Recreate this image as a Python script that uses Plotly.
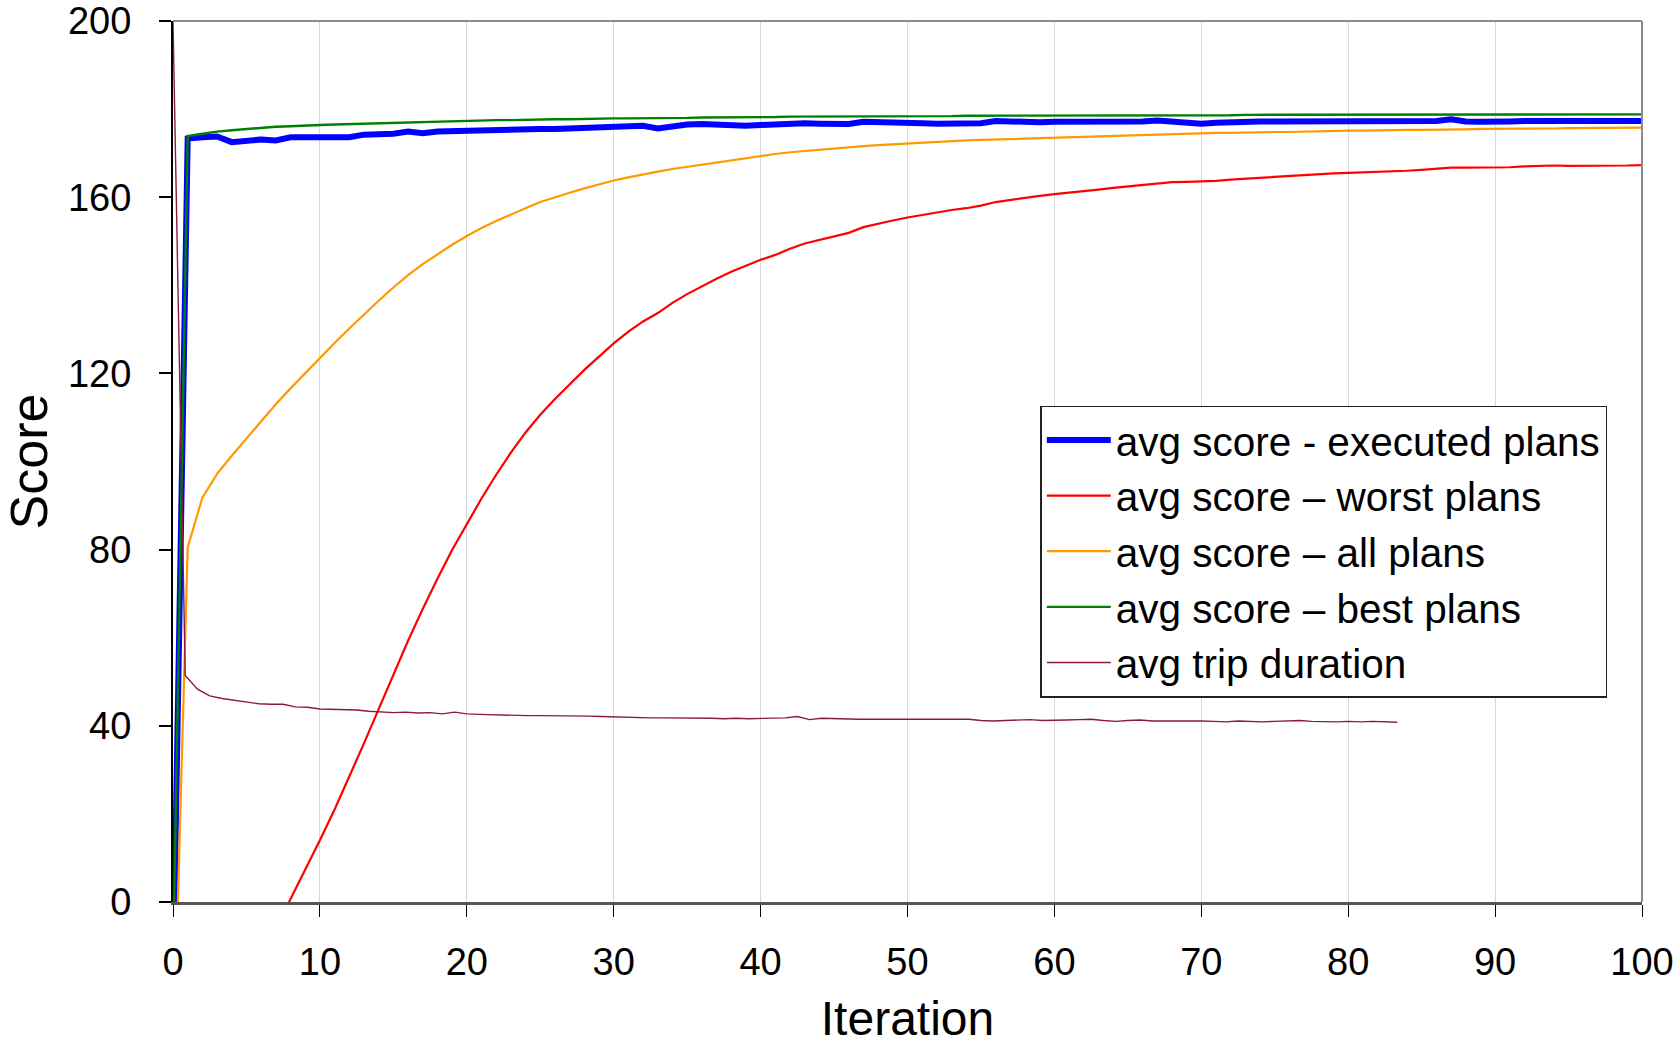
import plotly.graph_objects as go

# ---------------- data ----------------
iterations = list(range(101))

executed = [-20, 173.3, 173.6, 173.8, 172.5, 172.8, 173.1, 172.9, 173.6, 173.6,
            173.6, 173.9, 173.6, 174.2, 174.2, 174.4, 174.9, 174.5, 174.9, 175.0,
            175.3, 175.2, 175.3, 175.3, 175.4, 175.5, 175.5, 175.6, 175.8, 175.9,
            176.0, 176.1, 176.2, 175.6, 176.1, 176.5, 176.6, 176.4, 176.1, 176.2,
            176.4, 176.6, 176.8, 176.8, 176.7, 176.6, 176.6, 177.1, 177.1, 177.0,
            176.9, 176.8, 176.7, 176.7, 176.5, 176.8, 177.3, 177.1, 177.1, 177.0,
            177.1, 177.1, 177.0, 177.1, 177.3, 177.2, 177.2, 177.4, 177.2, 177.0,
            176.7, 176.9, 177.1, 177.1, 177.2, 177.2, 177.2, 177.1, 177.2, 177.2,
            177.2, 177.2, 177.2, 177.1, 177.2, 177.3, 177.3, 177.7, 177.2, 177.1,
            177.0, 177.2, 177.3, 177.3, 177.5, 177.3, 177.2, 177.2, 177.3, 177.3,
            177.3]

worst = [None, None, None, None, None, None, None, -6.0, 0.6, 7.2,
         14.0, 21.0, 28.4, 36.0, 43.8, 51.5, 59.3, 66.5, 73.4, 79.9,
         85.9, 91.6, 97.0, 102.0, 106.6, 110.6, 114.2, 117.6, 120.8, 123.8,
         126.8, 129.5, 131.8, 133.7, 136.0, 138.0, 139.8, 141.5, 143.1, 144.5,
         145.8, 146.9, 148.3, 149.5, 150.3, 151.1, 151.9, 153.2, 154.0, 154.7,
         155.4, 156.0, 156.6, 157.1, 157.5, 158.1, 158.9, 159.4, 159.8, 160.3,
         160.7, 161.0, 161.3, 161.7, 162.1, 162.4, 162.7, 163.1, 163.4, 163.5,
         163.6, 163.7, 164.0, 164.2, 164.4, 164.7, 164.9, 165.0, 165.2, 165.4,
         165.5, 165.6, 165.7, 165.9, 166.0, 166.2, 166.4, 166.7, 166.7, 166.7,
         166.7, 166.8, 167.0, 167.1, 167.2, 167.1, 167.1, 167.1, 167.1, 167.2,
         167.3]

all_plans = [-40, 80.5, 91.8, 97.2, 101.3, 105.2, 109.2, 113.0, 116.6, 120.1,
             123.5, 126.9, 130.2, 133.4, 136.5, 139.5, 142.3, 144.8, 147.1, 149.2,
             151.2, 153.0, 154.6, 156.1, 157.5, 158.9, 160.0, 161.0, 162.0, 162.9,
             163.8, 164.5, 165.2, 165.8, 166.4, 166.9, 167.4, 167.9, 168.4, 168.9,
             169.4, 169.8, 170.2, 170.5, 170.8, 171.1, 171.4, 171.6, 171.8, 172.0,
             172.2, 172.4, 172.6, 172.7, 172.9, 173.0, 173.1, 173.3, 173.4, 173.5,
             173.6, 173.7, 173.8, 173.9, 174.0, 174.1, 174.2, 174.3, 174.3, 174.4,
             174.5, 174.6, 174.6, 174.7, 174.7, 174.8, 174.8, 174.9, 174.9, 175.0,
             175.1, 175.1, 175.2, 175.2, 175.3, 175.3, 175.3, 175.4, 175.4, 175.5,
             175.5, 175.5, 175.6, 175.6, 175.6, 175.7, 175.7, 175.7, 175.8, 175.8,
             175.8]

best = [-15, 173.9, 174.4, 174.9, 175.2, 175.5, 175.8, 176.0, 176.1, 176.3,
        176.4, 176.5, 176.6, 176.7, 176.8, 176.9, 177.0, 177.1, 177.2, 177.3,
        177.4, 177.4, 177.5, 177.5, 177.6, 177.6, 177.7, 177.7, 177.8, 177.8,
        177.9, 177.9, 177.9, 178.0, 178.0, 178.0, 178.1, 178.1, 178.1, 178.2,
        178.2, 178.2, 178.3, 178.3, 178.3, 178.3, 178.3, 178.4, 178.4, 178.4,
        178.4, 178.4, 178.4, 178.4, 178.5, 178.5, 178.5, 178.5, 178.5, 178.5,
        178.5, 178.5, 178.5, 178.6, 178.6, 178.6, 178.6, 178.6, 178.6, 178.6,
        178.6, 178.6, 178.6, 178.7, 178.7, 178.7, 178.7, 178.7, 178.7, 178.7,
        178.7, 178.7, 178.7, 178.7, 178.7, 178.7, 178.8, 178.8, 178.8, 178.8,
        178.8, 178.8, 178.8, 178.8, 178.8, 178.8, 178.8, 178.8, 178.8, 178.8,
        178.8]

trip_x = [round(i * 5 / 6, 3) for i in range(101)]
trip_duration = [200, 51.4, 48.3, 46.8, 46.2, 45.8, 45.3, 45.0, 44.9, 44.9,
                 44.3, 44.2, 43.8, 43.7, 43.7, 43.6, 43.3, 43.1, 43.0, 43.1,
                 42.9, 43.0, 42.7, 43.1, 42.7, 42.6, 42.5, 42.4, 42.4, 42.3,
                 42.3, 42.3, 42.3, 42.2, 42.2, 42.1, 42.0, 41.9, 41.8, 41.8,
                 41.8, 41.8, 41.8, 41.7, 41.7, 41.6, 41.7, 41.6, 41.7, 41.7,
                 41.8, 42.1, 41.4, 41.7, 41.6, 41.5, 41.5, 41.5, 41.5, 41.4,
                 41.4, 41.5, 41.4, 41.5, 41.5, 41.5, 41.2, 41.1, 41.2, 41.3,
                 41.4, 41.2, 41.2, 41.3, 41.4, 41.5, 41.2, 41.0, 41.2, 41.3,
                 41.1, 41.1, 41.2, 41.2, 41.1, 41.0, 40.9, 41.1, 41.0, 40.9,
                 41.0, 41.1, 41.2, 41.0, 40.9, 40.9, 41.0, 40.9, 41.0, 40.9,
                 40.8]

x_ticks = [0, 10, 20, 30, 40, 50, 60, 70, 80, 90, 100]
y_ticks = [0, 40, 80, 120, 160, 200]

names = ["avg score - executed plans", "avg score \u2013 worst plans",
         "avg score \u2013 all plans", "avg score \u2013 best plans",
         "avg trip duration"]

# ---------------- figure ----------------
FONT = "Liberation Sans, Arial, sans-serif"

fig = go.Figure()
fig.add_trace(go.Scatter(x=iterations, y=executed, mode="lines", name=names[0],
                         line=dict(color="#0000FF", width=6)))
fig.add_trace(go.Scatter(x=iterations, y=worst, mode="lines", name=names[1],
                         line=dict(color="#FF0000", width=2.2)))
fig.add_trace(go.Scatter(x=iterations, y=all_plans, mode="lines", name=names[2],
                         line=dict(color="#FF9900", width=2.2)))
fig.add_trace(go.Scatter(x=iterations, y=best, mode="lines", name=names[3],
                         line=dict(color="#008000", width=2.4)))
fig.add_trace(go.Scatter(x=trip_x, y=trip_duration, mode="lines", name=names[4],
                         line=dict(color="#8B1A40", width=1.4)))

fig.update_layout(
    width=1677, height=1045, autosize=False,
    margin=dict(l=173, r=35, t=21, b=143),
    paper_bgcolor="white", plot_bgcolor="white",
    font=dict(family=FONT, color="black", size=38),
    showlegend=True,
    legend=dict(x=0.5904, y=0.5635, xanchor="left", yanchor="top",
                bgcolor="white", bordercolor="#222222", borderwidth=1.5,
                font=dict(family=FONT, size=40.5, color="black"),
                itemwidth=64, tracegroupgap=0),
    xaxis=dict(range=[0, 100], tickvals=x_ticks, ticktext=[str(v) for v in x_ticks],
               showgrid=True, gridcolor="#DADADA", gridwidth=1,
               showline=True, linecolor="#555555", linewidth=3,
               ticks="outside", ticklen=12, tickwidth=1, tickcolor="black",
               tickfont=dict(family=FONT, size=38, color="black"),
               ticklabelstandoff=12, ticklabeloverflow="allow", automargin=False,
               zeroline=False,
               title=dict(text="Iteration", font=dict(family=FONT, size=48, color="black"),
                          standoff=21)),
    yaxis=dict(range=[0, 200], tickvals=y_ticks, ticktext=[str(v) for v in y_ticks],
               showgrid=False, showline=True, linecolor="black", linewidth=2,
               ticks="outside", ticklen=12, tickwidth=1.5, tickcolor="black",
               tickfont=dict(family=FONT, size=38, color="black"),
               ticklabelstandoff=20, ticklabeloverflow="allow", automargin=False,
               zeroline=False,
               title=dict(text="Score", font=dict(family=FONT, size=52, color="black"),
                          standoff=25)),
)

# top and right frame lines of the plot area
fig.add_shape(type="line", xref="paper", yref="paper", x0=0, x1=1, y0=1, y1=1,
              line=dict(color="#8C8C8C", width=2))
fig.add_shape(type="line", xref="paper", yref="paper", x0=1, x1=1, y0=0, y1=1,
              line=dict(color="#8C8C8C", width=2))

fig.write_html("out.html", config={"displayModeBar": False},
               post_script="document.body.style.margin='0';document.body.style.padding='0';")
